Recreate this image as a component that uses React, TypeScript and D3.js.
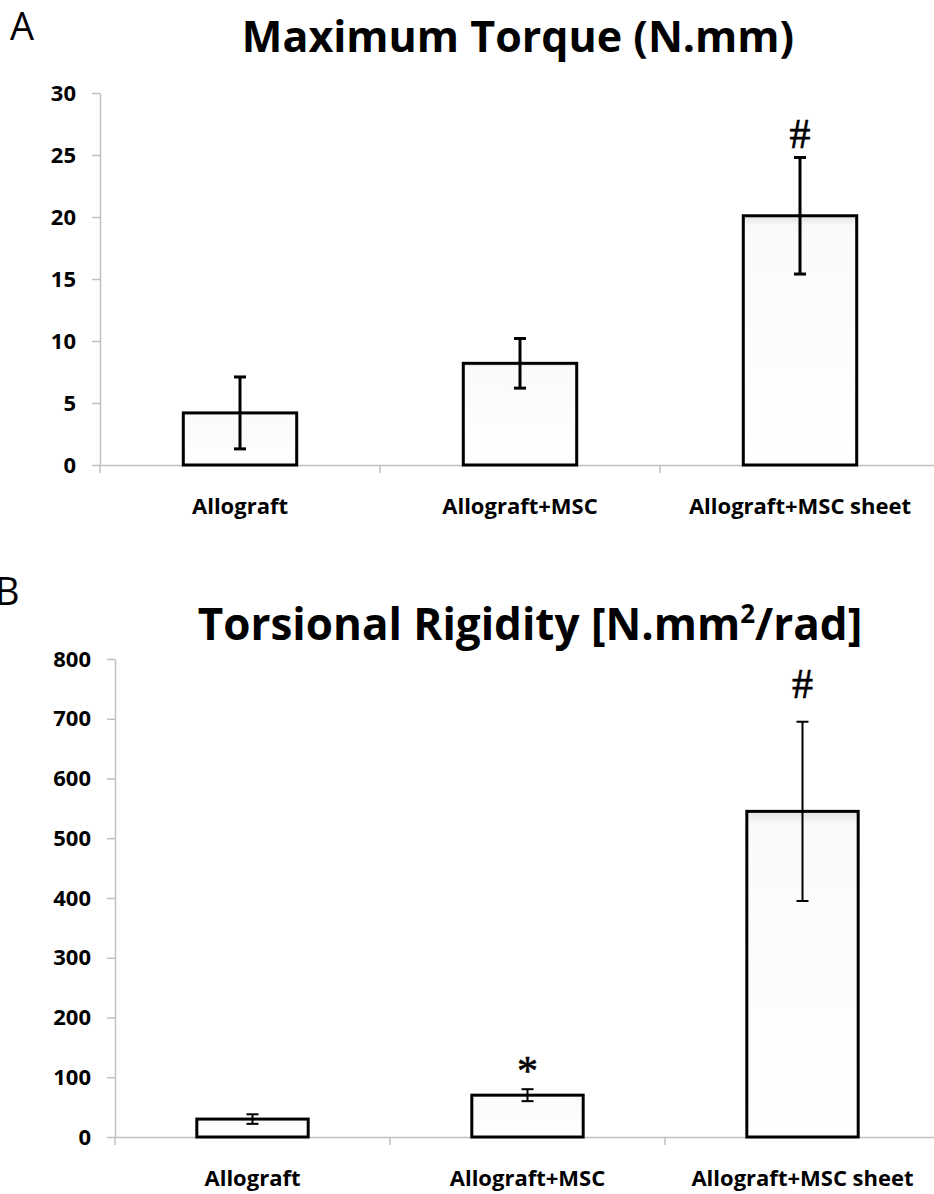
import React, { useEffect, useRef } from 'react';
import * as d3 from 'd3';

// categories shared by both panels
const groups = ['Allograft', 'Allograft+MSC', 'Allograft+MSC sheet'];

// panel A - maximum torque
const torqueMean = [4.2, 8.2, 20.1];
const torqueErr = [2.9, 2.0, 4.7];
const torqueMarks = ['', '', '#'];
const torqueTicks = [0, 5, 10, 15, 20, 25, 30];

// panel B - torsional rigidity
const rigidMean = [30, 70, 545];
const rigidErr = [8, 10, 150];
const rigidMarks = ['', '*', '#'];
const rigidTicks = [0, 100, 200, 300, 400, 500, 600, 700, 800];

const W = 934;
const H = 1194;
const FONT = '"Open Sans", sans-serif';

function App() {
  const ref = useRef(null);

  useEffect(() => {
    const svg = d3.select(ref.current);
    svg.selectAll('*').remove();

    const defs = svg.append('defs');
    const grad = defs.append('linearGradient')
      .attr('id', 'barShade').attr('x1', 0).attr('x2', 0).attr('y1', 0).attr('y2', 1);
    grad.append('stop').attr('offset', '0').attr('stop-color', '#e2e2e2');
    grad.append('stop').attr('offset', '0.04').attr('stop-color', '#fafafa');
    grad.append('stop').attr('offset', '1').attr('stop-color', '#ffffff');

    function panel(opt) {
      const { left, right, top, bottom, maxV, ticks, mean, err, marks, markGap, errW, letter, letterX, letterY, title } = opt;
      const g = svg.append('g');
      const axisColor = '#c0c0c0';

      const y = d3.scaleLinear().domain([0, maxV]).range([bottom, top]);
      const x = d3.scaleBand().domain(groups).range([left, right]);

      // y axis
      const yAxis = d3.axisLeft(y).tickValues(ticks).tickSize(8).tickSizeOuter(0).tickPadding(16);
      const ya = g.append('g').attr('transform', `translate(${left},0)`).call(yAxis);
      ya.select('.domain').attr('stroke', axisColor).attr('stroke-width', 1.5);
      ya.selectAll('.tick line').attr('stroke', axisColor).attr('stroke-width', 1.5);
      ya.selectAll('.tick text')
        .attr('font-family', FONT).attr('font-weight', 'bold').attr('font-size', 22).attr('fill', '#000');

      // x axis
      const xAxis = d3.axisBottom(x).tickSize(0).tickPadding(33);
      const xa = g.append('g').attr('transform', `translate(0,${bottom})`).call(xAxis);
      xa.select('.domain').attr('stroke', axisColor).attr('stroke-width', 1.5);
      xa.selectAll('.tick text')
        .attr('font-family', FONT).attr('font-weight', 'bold').attr('font-size', 22).attr('fill', '#000');
      const edges = [left].concat(groups.slice(1).map(d => x(d)));
      g.append('g').selectAll('line')
        .data(edges)
        .enter().append('line')
        .attr('x1', d => d).attr('x2', d => d)
        .attr('y1', bottom).attr('y2', bottom + 8)
        .attr('stroke', axisColor).attr('stroke-width', 1.5);

      // bars
      const bw = x.bandwidth() * 0.405;
      g.append('g').selectAll('rect')
        .data(mean)
        .enter().append('rect')
        .attr('x', (d, i) => x(groups[i]) + x.bandwidth() / 2 - bw / 2)
        .attr('y', d => y(d))
        .attr('width', bw)
        .attr('height', d => bottom - y(d))
        .attr('fill', 'url(#barShade)')
        .attr('stroke', '#000').attr('stroke-width', 3);

      // error bars and significance marks
      const eg = g.append('g').attr('stroke', '#000').attr('stroke-width', errW);
      mean.forEach((m, i) => {
        const cx = x(groups[i]) + x.bandwidth() / 2;
        const hi = y(m + err[i]);
        const lo = y(m - err[i]);
        eg.append('line').attr('x1', cx).attr('x2', cx).attr('y1', hi).attr('y2', lo);
        eg.append('line').attr('x1', cx - 6).attr('x2', cx + 6).attr('y1', hi).attr('y2', hi);
        eg.append('line').attr('x1', cx - 6).attr('x2', cx + 6).attr('y1', lo).attr('y2', lo);
        if (marks[i]) {
          g.append('text')
            .attr('x', cx).attr('y', hi - markGap[i])
            .attr('text-anchor', 'middle')
            .attr('font-family', '"Liberation Serif", serif')
            .attr('font-size', 42)
            .attr('stroke', '#000').attr('stroke-width', 0.6)
            .text(marks[i]);
        }
      });

      // panel letter
      svg.append('text')
        .attr('x', letterX).attr('y', letterY)
        .attr('font-family', FONT).attr('font-size', 38)
        .text(letter);

      // title
      const t = svg.append('text')
        .attr('x', title.x).attr('y', title.y)
        .attr('text-anchor', 'middle')
        .attr('font-family', FONT).attr('font-weight', 'bold').attr('font-size', title.size);
      title.parts.forEach(p => {
        const s = t.append('tspan').text(p.text);
        if (p.sup) s.attr('dy', -17).attr('font-size', 26);
        if (p.after) s.attr('dy', 17);
      });
    }

    panel({
      left: 100, right: 940, top: 93, bottom: 465, maxV: 30, ticks: torqueTicks,
      mean: torqueMean, err: torqueErr, marks: torqueMarks, markGap: [0, 0, 9], errW: 3,
      letter: 'A', letterX: 10, letterY: 40,
      title: { x: 518, y: 52, size: 43, parts: [{ text: 'Maximum Torque (N.mm)' }] }
    });

    panel({
      left: 115, right: 940, top: 659, bottom: 1137, maxV: 800, ticks: rigidTicks,
      mean: rigidMean, err: rigidErr, marks: rigidMarks, markGap: [0, 4, 24], errW: 2,
      letter: 'B', letterX: -5, letterY: 605,
      title: {
        x: 530, y: 640, size: 44,
        parts: [{ text: 'Torsional Rigidity [N.mm' }, { text: '2', sup: true }, { text: '/rad]', after: true }]
      }
    });
  }, []);

  return (
    <svg ref={ref} width={W} height={H}
      style={{ position: 'absolute', left: 0, top: 0, background: '#fff' }} />
  );
}

export default App;
